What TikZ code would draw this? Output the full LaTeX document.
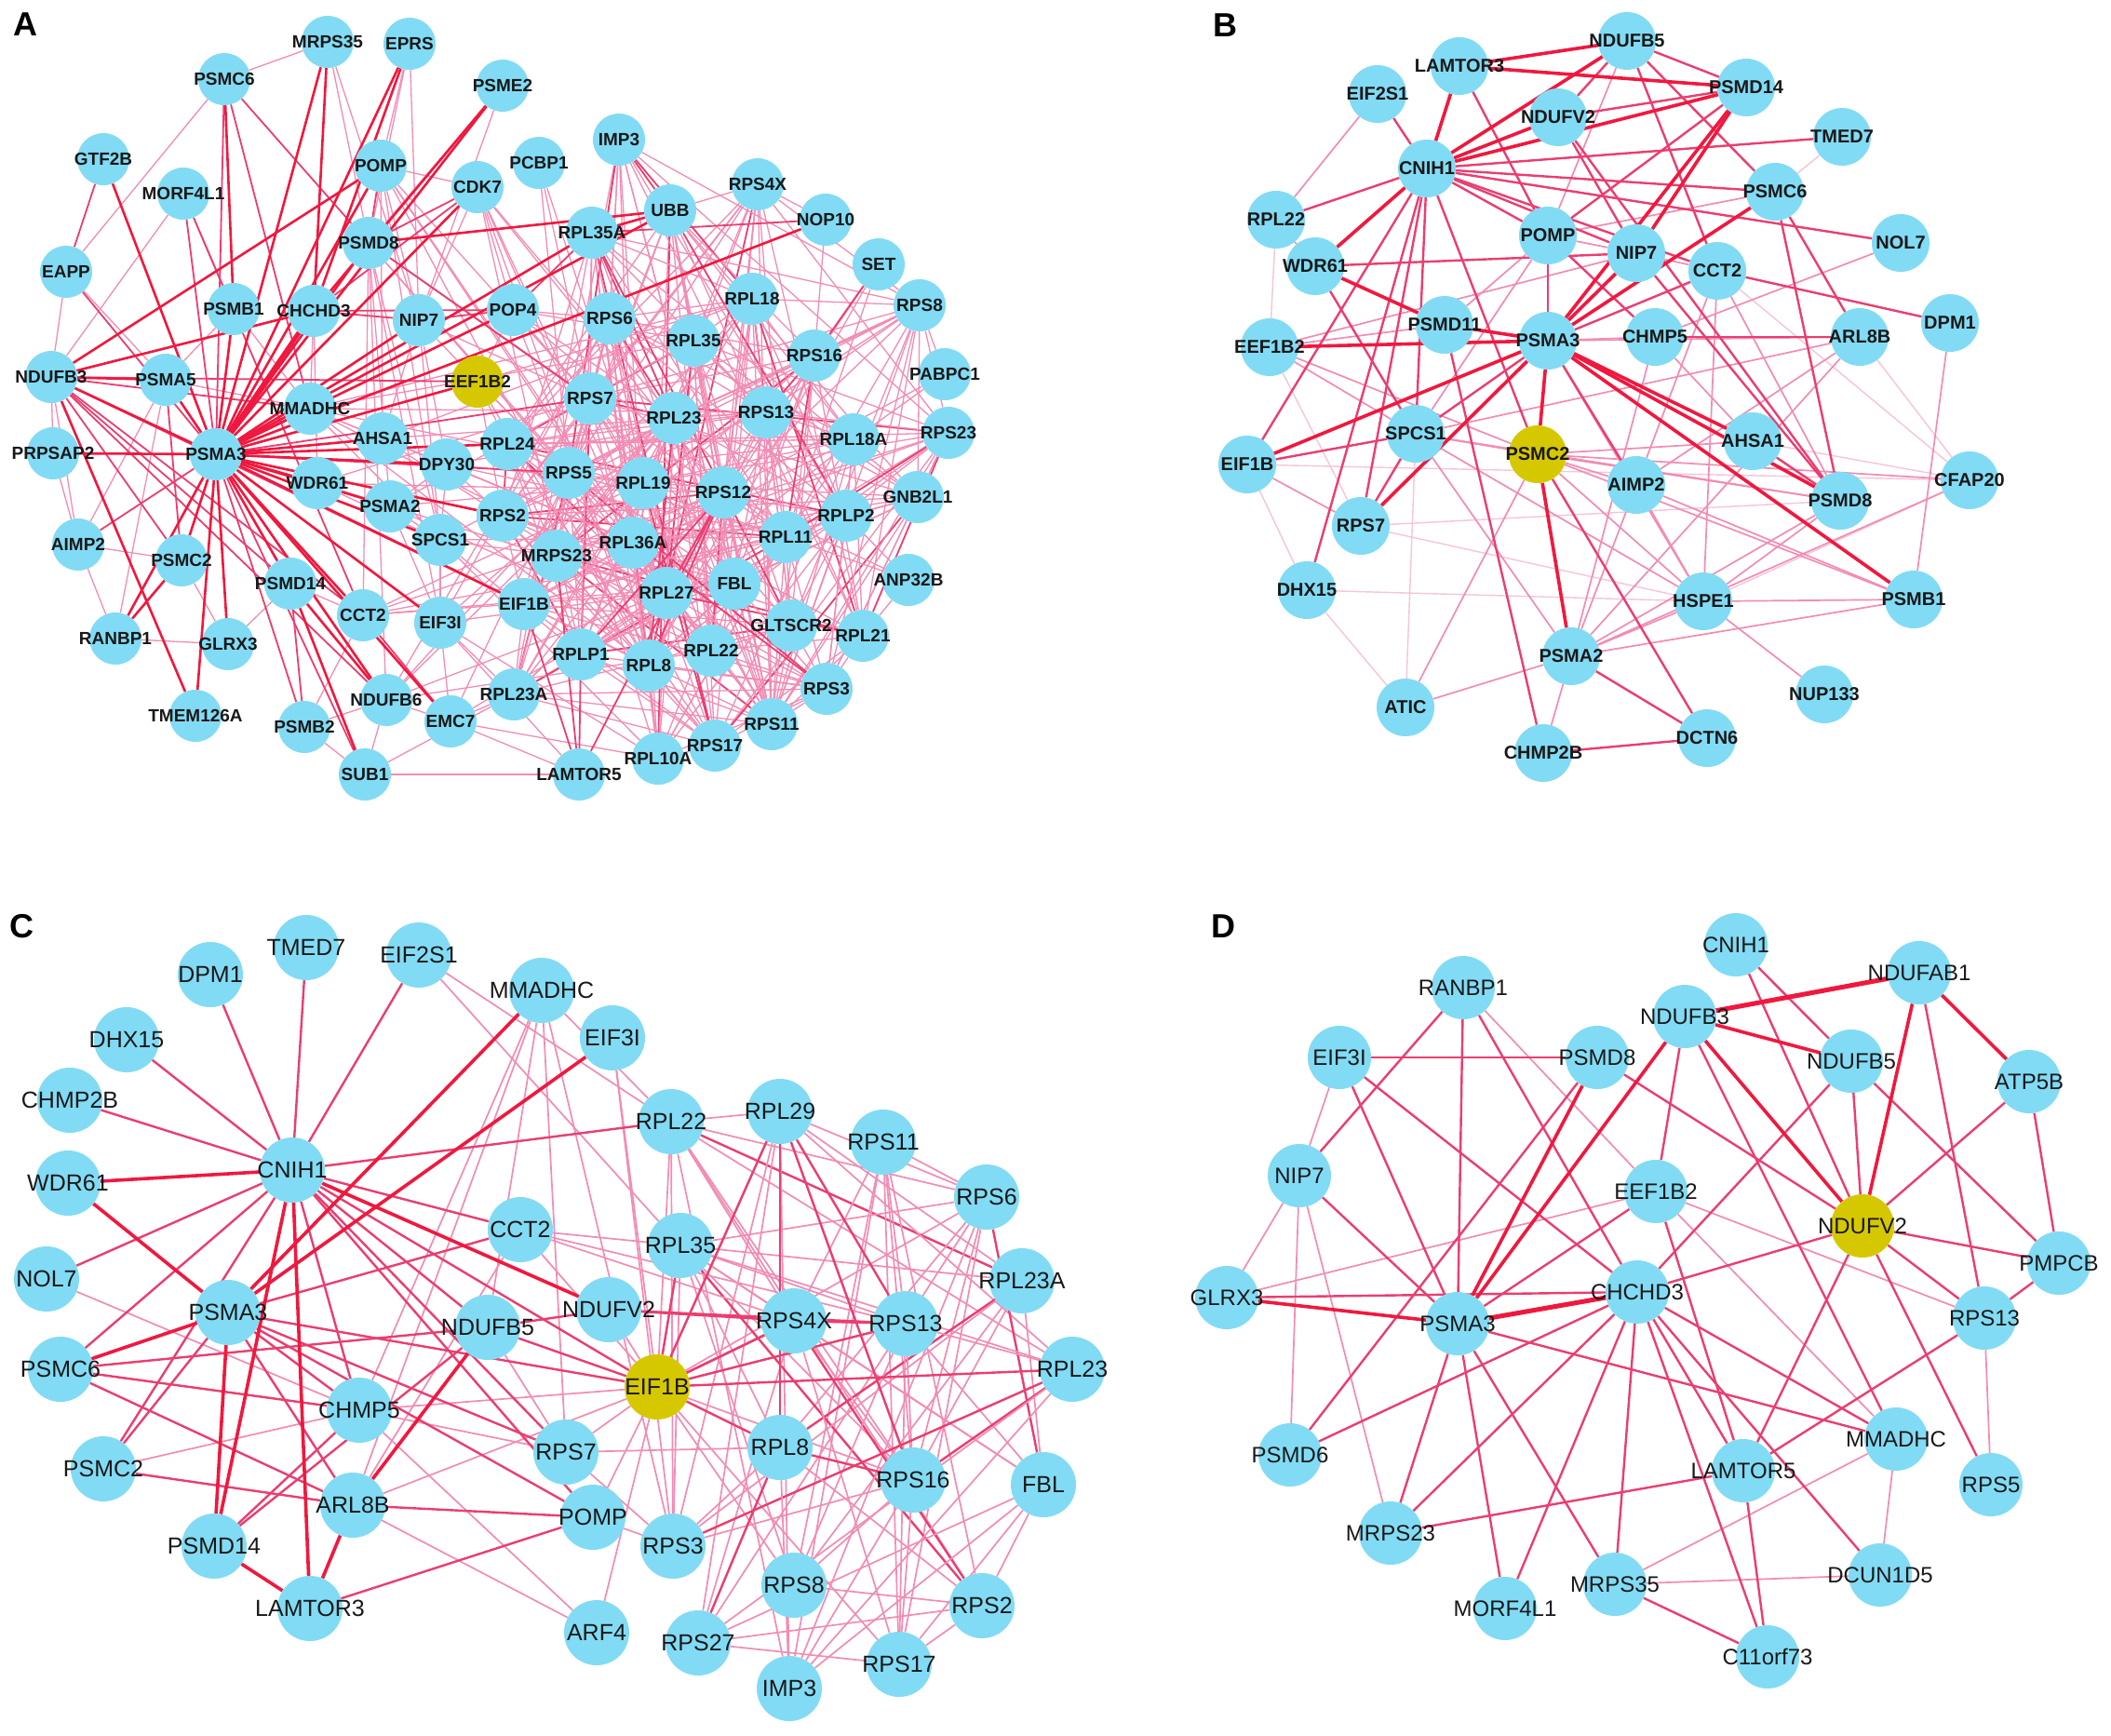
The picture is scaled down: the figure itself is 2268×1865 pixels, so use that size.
\documentclass[tikz,border=0pt]{standalone}
\usepackage{fontspec}
\setmainfont{Liberation Sans}
\pgfdeclarelayer{bgl}
\pgfdeclarelayer{edges}
\pgfdeclarelayer{fg}
\pgfsetlayers{bgl,edges,main,fg}
\definecolor{ncyan}{RGB}{130,219,244}
\definecolor{nyel}{RGB}{214,200,0}
\definecolor{cR}{RGB}{240,24,62}
\definecolor{cM}{RGB}{234,62,112}
\definecolor{cL}{RGB}{242,140,180}
\definecolor{cV}{RGB}{247,196,216}
\definecolor{txt}{RGB}{25,25,25}
\tikzset{
 nda/.style={circle,fill=ncyan,inner sep=0pt,minimum size=56},
 ndb/.style={circle,fill=ncyan,inner sep=0pt,minimum size=62},
 ndc/.style={circle,fill=ncyan,inner sep=0pt,minimum size=70},
 ndd/.style={circle,fill=ncyan,inner sep=0pt,minimum size=68},
 yel/.style={fill=nyel},
 ta/.style={text=txt,font=\bfseries\fontsize{19}{19}\selectfont,inner sep=0pt},
 tb/.style={text=txt,font=\bfseries\fontsize{20}{20}\selectfont,inner sep=0pt},
 tc/.style={text=txt,font=\fontsize{25}{25}\selectfont,inner sep=0pt},
 td/.style={text=txt,font=\fontsize{24}{24}\selectfont,inner sep=0pt},
 plab/.style={text=black,font=\bfseries\fontsize{36}{36}\selectfont,inner sep=0pt},
 aRR/.style={draw=cR,line width=5},
 aR/.style={draw=cR,line width=2.6},
 aM/.style={draw=cM,line width=1.8},
 aL/.style={draw=cL,line width=1.3},
 eR/.style={draw=cR,line width=3.6},
 eM/.style={draw=cM,line width=2.4},
 eL/.style={draw=cL,line width=1.7},
 eV/.style={draw=cV,line width=1.4}
}
\newcommand\NA[3][]{\node[nda,#1] (a#2) at (#3) {};\begin{pgfonlayer}{fg}\node[ta] at (#3) {#2};\end{pgfonlayer}}
\newcommand\NB[3][]{\node[ndb,#1] (b#2) at (#3) {};\begin{pgfonlayer}{fg}\node[tb] at (#3) {#2};\end{pgfonlayer}}
\newcommand\NC[3][]{\node[ndc,#1] (c#2) at (#3) {};\begin{pgfonlayer}{fg}\node[tc] at (#3) {#2};\end{pgfonlayer}}
\newcommand\ND[3][]{\node[ndd,#1] (d#2) at (#3) {};\begin{pgfonlayer}{fg}\node[td] at (#3) {#2};\end{pgfonlayer}}
\def\meshA{RPL24,RPS2,MRPS23,EIF1B,RPL23A,RPLP1,RPL8,RPL10A,RPS17,RPL22,RPS11,RPL27,RPL36A,RPS5,RPS7,RPS6,RPL35A,IMP3,UBB,RPS4X,RPL18,RPL35,RPL23,RPL19,RPS12,RPS13,RPS16,RPS8,RPL18A,RPS23,GNB2L1,RPLP2,RPL11,FBL,GLTSCR2,RPL21,RPS3}
\def\leftA{EEF1B2,POP4,NIP7,DPY30,AHSA1,SPCS1,PSMA2,PSMD8,EIF3I,CCT2,WDR61,MMADHC,CDK7,POMP,EMC7,NDUFB6}
\def\rightA{RPS7,RPS6,RPL35A,RPS5,RPL19,RPL23,RPL36A,RPLP1,RPL8,RPL27,RPS12,RPS13,RPL35,RPL18,RPL10A,FBL,RPL11,RPL22}
\def\meshC{EIF1B,RPL22,RPL29,RPS11,RPS6,RPL35,RPL23A,RPS4X,RPS13,RPL23,RPL8,RPS16,FBL,RPS3,RPS8,RPS2,RPS27,RPS17,IMP3}
\newcommand\rmod[1]{\edef\r{\the\numexpr (#1) - 100*(((#1)-50)/100)\relax}}
\begin{document}
\begin{tikzpicture}[x=1pt,y=-1pt]
\begin{pgfonlayer}{bgl}
\fill[white] (0,0) rectangle (2268,1865);
\end{pgfonlayer}
\useasboundingbox (0,0) rectangle (2268,1865);
\node[plab] (labA) at (27,26) {A};
\node[plab] (labB) at (1316,27) {B};
\node[plab] (labC) at (23,995) {C};
\node[plab] (labD) at (1314,995) {D};
% ---------------- Panel A nodes
\NA{MRPS35}{352,45}
\NA{EPRS}{440,47}
\NA{PSMC6}{241,85}
\NA{PSME2}{540,92}
\NA{GTF2B}{111,171}
\NA{MORF4L1}{197,208}
\NA{POMP}{409,178}
\NA{CDK7}{513,201}
\NA{PCBP1}{579,175}
\NA{PSMD8}{396,261}
\NA{EAPP}{71,292}
\NA{PSMB1}{251,332}
\NA{CHCHD3}{337,334}
\NA{NIP7}{450,344}
\NA{POP4}{551,333}
\NA{NDUFB3}{55,405}
\NA{PSMA5}{178,408}
\NA[yel]{EEF1B2}{513,410}
\NA{MMADHC}{333,439}
\NA{AHSA1}{411,471}
\NA{RPL24}{545,477}
\NA{PRPSAP2}{57,487}
\NA{PSMA3}{232,488}
\NA{DPY30}{480,499}
\NA{WDR61}{341,519}
\NA{PSMA2}{419,544}
\NA{RPS2}{540,554}
\NA{SPCS1}{473,580}
\NA{AIMP2}{84,585}
\NA{PSMC2}{195,602}
\NA{PSMD14}{312,627}
\NA{CCT2}{390,661}
\NA{EIF3I}{473,669}
\NA{EIF1B}{563,649}
\NA{RANBP1}{124,686}
\NA{GLRX3}{245,692}
\NA{NDUFB6}{415,752}
\NA{EMC7}{484,775}
\NA{RPL23A}{552,746}
\NA{TMEM126A}{210,769}
\NA{PSMB2}{327,781}
\NA{SUB1}{392,832}
\NA{IMP3}{665,150}
\NA{RPS4X}{814,198}
\NA{UBB}{720,226}
\NA{NOP10}{887,236}
\NA{RPL35A}{636,250}
\NA{SET}{944,284}
\NA{RPL18}{808,321}
\NA{RPS8}{988,328}
\NA{RPS6}{655,342}
\NA{RPL35}{745,366}
\NA{RPS16}{875,382}
\NA{PABPC1}{1015,402}
\NA{RPS7}{634,428}
\NA{RPL23}{724,449}
\NA{RPS13}{823,443}
\NA{RPL18A}{917,472}
\NA{RPS23}{1019,465}
\NA{RPS5}{611,508}
\NA{RPL19}{691,519}
\NA{RPS12}{777,529}
\NA{GNB2L1}{986,534}
\NA{RPLP2}{909,554}
\NA{RPL11}{844,577}
\NA{RPL36A}{680,583}
\NA{MRPS23}{598,597}
\NA{ANP32B}{976,623}
\NA{FBL}{789,627}
\NA{RPL27}{716,637}
\NA{GLTSCR2}{850,672}
\NA{RPL21}{927,683}
\NA{RPLP1}{624,703}
\NA{RPL8}{697,715}
\NA{RPL22}{764,699}
\NA{RPS3}{888,740}
\NA{RPS11}{829,778}
\NA{RPS17}{768,801}
\NA{RPL10A}{707,815}
\NA{LAMTOR5}{622,832}
% ---------------- Panel B nodes
\NB{NDUFB5}{1748,44}
\NB{LAMTOR3}{1568,71}
\NB{PSMD14}{1876,94}
\NB{EIF2S1}{1480,101}
\NB{NDUFV2}{1674,126}
\NB{TMED7}{1979,147}
\NB{CNIH1}{1533,181}
\NB{PSMC6}{1907,206}
\NB{RPL22}{1371,236}
\NB{NOL7}{2042,261}
\NB{POMP}{1663,253}
\NB{NIP7}{1758,272}
\NB{WDR61}{1413,286}
\NB{CCT2}{1845,291}
\NB{DPM1}{2095,347}
\NB{PSMD11}{1552,349}
\NB{PSMA3}{1663,366}
\NB{CHMP5}{1778,362}
\NB{ARL8B}{1998,362}
\NB{EEF1B2}{1364,373}
\NB{SPCS1}{1521,466}
\NB{AHSA1}{1883,474}
\NB[yel]{PSMC2}{1652,488}
\NB{EIF1B}{1340,499}
\NB{AIMP2}{1758,521}
\NB{CFAP20}{2116,516}
\NB{PSMD8}{1977,538}
\NB{RPS7}{1462,565}
\NB{DHX15}{1404,634}
\NB{HSPE1}{1830,646}
\NB{PSMB1}{2056,644}
\NB{PSMA2}{1688,705}
\NB{ATIC}{1510,760}
\NB{NUP133}{1960,746}
\NB{DCTN6}{1834,793}
\NB{CHMP2B}{1658,809}
% ---------------- Panel C nodes
\NC{TMED7}{329,1018}
\NC{EIF2S1}{450,1026}
\NC{DPM1}{226,1047}
\NC{MMADHC}{582,1064}
\NC{DHX15}{136,1117}
\NC{EIF3I}{658,1115}
\NC{CHMP2B}{75,1182}
\NC{RPL22}{721,1205}
\NC{RPL29}{838,1194}
\NC{RPS11}{949,1227}
\NC{CNIH1}{314,1257}
\NC{WDR61}{73,1271}
\NC{RPS6}{1060,1286}
\NC{CCT2}{559,1321}
\NC{RPL35}{731,1338}
\NC{NOL7}{50,1374}
\NC{RPL23A}{1098,1376}
\NC{NDUFV2}{654,1407}
\NC{PSMA3}{245,1410}
\NC{RPS4X}{853,1419}
\NC{RPS13}{973,1422}
\NC{NDUFB5}{524,1426}
\NC{PSMC6}{65,1471}
\NC{RPL23}{1152,1471}
\NC[yel]{EIF1B}{706,1490}
\NC{CHMP5}{386,1515}
\NC{RPL8}{838,1555}
\NC{RPS7}{608,1560}
\NC{PSMC2}{111,1578}
\NC{RPS16}{981,1590}
\NC{FBL}{1121,1595}
\NC{ARL8B}{379,1617}
\NC{POMP}{637,1630}
\NC{PSMD14}{230,1661}
\NC{RPS3}{723,1661}
\NC{RPS8}{853,1703}
\NC{LAMTOR3}{333,1728}
\NC{RPS2}{1055,1725}
\NC{ARF4}{641,1754}
\NC{RPS27}{750,1765}
\NC{RPS17}{966,1788}
\NC{IMP3}{848,1814}
% ---------------- Panel D nodes
\ND{CNIH1}{1865,1015}
\ND{NDUFAB1}{2062,1045}
\ND{RANBP1}{1572,1061}
\ND{NDUFB3}{1810,1092}
\ND{EIF3I}{1439,1136}
\ND{PSMD8}{1716,1136}
\ND{NDUFB5}{1989,1140}
\ND{ATP5B}{2180,1162}
\ND{NIP7}{1396,1263}
\ND{EEF1B2}{1779,1280}
\ND[yel]{NDUFV2}{2001,1317}
\ND{PMPCB}{2212,1357}
\ND{GLRX3}{1318,1394}
\ND{CHCHD3}{1759,1388}
\ND{PSMA3}{1566,1422}
\ND{RPS13}{2132,1416}
\ND{PSMD6}{1386,1563}
\ND{MMADHC}{2037,1546}
\ND{LAMTOR5}{1873,1580}
\ND{RPS5}{2139,1595}
\ND{MRPS23}{1494,1647}
\ND{DCUN1D5}{2020,1692}
\ND{MRPS35}{1735,1702}
\ND{MORF4L1}{1617,1728}
\ND{C11orf73}{1899,1780}
% ================= EDGES
\begin{pgfonlayer}{edges}
% ---- Panel A: ribosomal mesh
\foreach \u [count=\i] in \meshA {
  \foreach \v [count=\j] in \meshA {
    \ifnum\j>\i
      \rmod{\i*37+\j*23+\i*\j*7}
      \ifnum\r<40 \draw[aL] (a\u)--(a\v);\fi
      \ifnum\r>93 \draw[aM] (a\u)--(a\v);\fi
    \fi
  }
}
\foreach \u [count=\i] in \leftA {
  \foreach \v [count=\j] in \rightA {
      \rmod{\i*29+\j*13+\i*\j*7}
      \ifnum\r<22 \draw[aL] (a\u)--(a\v);\fi
  }
}
\foreach \u/\v in {PSMC6/EAPP,PSMC6/MRPS35,MRPS35/NIP7,MRPS35/PSMD8,EPRS/PSMD8,EPRS/POMP,PSME2/PSMD8,POMP/NIP7,POMP/CDK7,POMP/SPCS1,POMP/AHSA1,CDK7/NIP7,CDK7/POP4,PSMD8/SPCS1,PSMD8/EIF3I,PSMD8/NDUFB6,PSMD8/CCT2,PSMD8/PSMA2,CHCHD3/WDR61,CHCHD3/MMADHC,NIP7/EEF1B2,NIP7/AHSA1,NIP7/DPY30,NIP7/SPCS1,POP4/EEF1B2,PSMA5/AIMP2,PSMA5/RANBP1,PSMA5/MMADHC,PRPSAP2/AIMP2,AIMP2/RANBP1,AIMP2/PSMC2,RANBP1/GLRX3,GLRX3/PSMC2,PSMD14/CCT2,NDUFB6/EMC7,NDUFB6/SUB1,NDUFB6/PSMB2,WDR61/SPCS1,WDR61/PSMA2,MMADHC/AHSA1,EIF3I/SPCS1,EIF3I/PSMA2,EIF3I/LAMTOR5,SUB1/RPL23A,EMC7/EIF3I,SPCS1/PSMA2,SPCS1/DPY30,AHSA1/DPY30,PSMA2/DPY30,PSMB2/CCT2,PSMB1/PSMA5,PSMB1/MMADHC,MORF4L1/PSMB1,EAPP/PSMA5,NDUFB3/PRPSAP2,NDUFB3/AIMP2,NDUFB3/MORF4L1,NDUFB3/EAPP,NOP10/RPS4X,NOP10/RPS16,SET/RPL11,SET/RPS12,SET/RPL8,PABPC1/RPS8,PABPC1/RPL18A,PABPC1/RPS12,ANP32B/RPL11,ANP32B/RPS12,ANP32B/RPL21,ANP32B/RPLP2,PCBP1/RPS7,PCBP1/RPS5,PCBP1/RPL19,IMP3/RPS6,EEF1B2/RPL24,EEF1B2/RPS5,EEF1B2/RPS2,POP4/RPS7,DPY30/RPS2,SPCS1/MRPS23,EIF3I/RPL23A,EMC7/RPL23A,EMC7/LAMTOR5,SUB1/LAMTOR5,GLRX3/PSMD14,PSMB2/SUB1,PSME2/NIP7,EPRS/NIP7}
  \draw[aL] (a\u)--(a\v);
\foreach \u/\v in {PSMA3/AIMP2,PSMA3/EAPP,PSMA3/MORF4L1,PSMA3/PSMB2,PSMA3/SUB1,PSMA3/PSMC6,NDUFB3/PSMC2,NDUFB3/CCT2,NDUFB3/NDUFB6,NDUFB3/EIF1B,NDUFB3/MMADHC,NDUFB3/PSMD14,NDUFB3/EEF1B2,GTF2B/EAPP,PSMC6/PSMD8,PSMC6/MMADHC,MORF4L1/CCT2,POMP/PSMD8,CDK7/PSMD8,CDK7/CHCHD3,CHCHD3/NIP7,CHCHD3/POP4,NIP7/POP4,PSMA5/PSMC2,PSMD14/PSMB2,CCT2/EMC7,EIF1B/LAMTOR5,LAMTOR5/RPS12,LAMTOR5/MRPS23,LAMTOR5/RPLP1,RPS12/RPL8,RPL23/RPL8,RPS12/RPL27,RPS12/RPLP1,SET/RPS16,NOP10/RPL35A,POP4/RPL35A,PSMD8/RPS7,PSMA3/RPS7,PSMA3/RPS5}
  \draw[aM] (a\u)--(a\v);
\foreach \v in {NDUFB3,PRPSAP2,PSMC2,GLRX3,TMEM126A,PSMD14,CCT2,NDUFB6,EMC7,EIF3I,SPCS1,PSMA2,WDR61,MMADHC,AHSA1,PSMD8,POMP,PSME2,EPRS,MRPS35,PSMB1,GTF2B,NIP7,POP4,EEF1B2,DPY30,RPL24,CDK7,EIF1B,RPS2,NOP10,UBB,RPL35A,PSMA5,RANBP1}
  \draw[aR] (aPSMA3)--(a\v);
\foreach \u/\v in {NDUFB3/PSMA5,NDUFB3/TMEM126A,NDUFB3/CHCHD3,NDUFB3/POMP,PSMC6/PSMB1,RANBP1/PSMC2,PSMD14/NDUFB6,PSMD14/SUB1,CHCHD3/MRPS35,CHCHD3/EPRS,CHCHD3/PSME2,PSMD8/UBB,UBB/RPL35A}
  \draw[aR] (a\u)--(a\v);
\draw[aRR] (aPSMA3)--(aCHCHD3);
% ---- Panel B
\foreach \u/\v in {RPL22/EEF1B2,PSMC6/TMED7,DHX15/ATIC,DHX15/HSPE1,DHX15/EIF1B,HSPE1/CFAP20,CFAP20/ARL8B,CFAP20/AHSA1,CFAP20/CCT2,RPS7/HSPE1,ATIC/SPCS1,EEF1B2/RPS7,RPS7/PSMD8,EIF1B/CFAP20}
  \draw[eV] (b\u)--(b\v);
\foreach \u/\v in {NDUFB5/POMP,EEF1B2/PSMD11,EEF1B2/SPCS1,EEF1B2/PSMC2,EEF1B2/NIP7,PSMA3/ARL8B,PSMA3/CHMP5,PSMA3/HSPE1,PSMC2/SPCS1,PSMC2/AHSA1,PSMC2/PSMD8,PSMC2/CFAP20,PSMC2/HSPE1,PSMC2/PSMB1,PSMC2/ATIC,PSMC2/AIMP2,PSMA2/ATIC,PSMA2/HSPE1,PSMA2/PSMB1,PSMA2/PSMD8,PSMA2/AIMP2,PSMA2/CHMP5,PSMA2/ARL8B,PSMA2/CHMP2B,PSMA2/SPCS1,PSMA2/CFAP20,NOL7/CHMP5,CCT2/PSMD8,CCT2/HSPE1,CCT2/AIMP2,NIP7/POMP,NIP7/CCT2,PSMC6/POMP,DPM1/PSMB1,AHSA1/CHMP5,POMP/SPCS1,POMP/PSMD11,ARL8B/AIMP2,ARL8B/SPCS1,SPCS1/PSMD8,SPCS1/HSPE1,EIF1B/RPS7,HSPE1/PSMB1,HSPE1/NUP133,HSPE1/AIMP2,RPL22/EIF2S1,AIMP2/PSMB1,RPL22/WDR61,HSPE1/PSMD8}
  \draw[eL] (b\u)--(b\v);
\foreach \u/\v in {CNIH1/TMED7,CNIH1/PSMC6,CNIH1/NOL7,CNIH1/EIF2S1,CNIH1/RPL22,CNIH1/POMP,CNIH1/CCT2,CNIH1/EIF1B,CNIH1/RPS7,CNIH1/PSMC2,CNIH1/DHX15,CNIH1/SPCS1,CNIH1/NIP7,LAMTOR3/POMP,NDUFB5/PSMD14,NDUFB5/NDUFV2,NDUFB5/PSMC6,NDUFB5/CCT2,PSMD14/NDUFV2,PSMD14/POMP,NDUFV2/NIP7,NDUFV2/PSMD8,WDR61/NIP7,WDR61/SPCS1,PSMA3/POMP,PSMA3/CCT2,PSMA3/SPCS1,PSMA3/AIMP2,PSMD11/CHMP2B,PSMC2/DCTN6,PSMA2/DCTN6,CHMP2B/DCTN6,CCT2/DPM1,NIP7/PSMD8,PSMC6/ARL8B,PSMC6/PSMD8,AHSA1/PSMD8,POMP/CHMP5,ARL8B/CHMP5,SPCS1/EIF1B,SPCS1/RPS7}
  \draw[eM] (b\u)--(b\v);
\foreach \u/\v in {CNIH1/LAMTOR3,CNIH1/NDUFB5,CNIH1/NDUFV2,CNIH1/PSMD14,CNIH1/WDR61,LAMTOR3/NDUFB5,LAMTOR3/PSMD14,PSMD14/NIP7,PSMD14/PSMA3,WDR61/PSMD11,PSMD11/PSMA3,EEF1B2/PSMA3,PSMA3/NIP7,PSMA3/PSMC6,PSMA3/PSMC2,PSMA3/EIF1B,PSMA3/RPS7,PSMA3/AHSA1,PSMA3/PSMD8,PSMA3/PSMB1,PSMC2/PSMA2}
  \draw[eR] (b\u)--(b\v);
% ---- Panel C
\foreach \u [count=\i] in \meshC {
  \foreach \v [count=\j] in \meshC {
    \ifnum\j>\i
      \rmod{\i*41+\j*19+\i*\j*13}
      \ifnum\r<45 \draw[eL] (c\u)--(c\v);\fi
      \ifnum\r>95 \draw[eM] (c\u)--(c\v);\fi
    \fi
  }
}
\foreach \u/\v in {EIF2S1/RPL35,EIF2S1/RPL22,MMADHC/CHMP5,MMADHC/ARL8B,MMADHC/RPS7,MMADHC/RPL22,MMADHC/RPS3,MMADHC/NDUFB5,EIF3I/EIF1B,EIF3I/RPS3,CCT2/RPL35,CCT2/RPS4X,CCT2/RPS13,CCT2/EIF1B,CCT2/ARL8B,PSMC2/CHMP5,CHMP5/RPS7,CHMP5/EIF1B,CHMP5/ARF4,ARL8B/EIF1B,RPS7/EIF1B,POMP/EIF1B,ARF4/EIF1B,ARF4/ARL8B,NOL7/CHMP5,NDUFB5/RPS7,NDUFV2/EIF1B,RPS7/RPS3,RPS7/RPL8,POMP/RPS3}
  \draw[eL] (c\u)--(c\v);
\foreach \u/\v in {CNIH1/DPM1,CNIH1/TMED7,CNIH1/EIF2S1,CNIH1/DHX15,CNIH1/CHMP2B,CNIH1/RPL22,CNIH1/NOL7,CNIH1/PSMC6,CNIH1/PSMC2,CNIH1/CHMP5,CNIH1/NDUFB5,CNIH1/CCT2,CNIH1/EIF1B,CNIH1/RPS7,CNIH1/POMP,PSMA3/CCT2,PSMA3/PSMC2,PSMA3/EIF1B,PSMA3/RPS7,PSMA3/POMP,PSMA3/ARL8B,PSMA3/CHMP5,NDUFB5/PSMC6,NDUFB5/PSMD14,NDUFB5/EIF1B,NDUFB5/NDUFV2,NDUFV2/RPS4X,NDUFV2/RPS13,LAMTOR3/POMP,PSMC2/ARL8B,PSMC6/CHMP5,PSMC6/ARL8B,CHMP5/PSMD14,ARL8B/POMP,EIF1B/RPL29,EIF1B/RPL35,EIF1B/RPS4X,EIF1B/RPL23,EIF1B/RPL8,EIF1B/RPS13,RPL29/RPL8,RPL29/RPS16,RPL29/RPS13,RPS4X/RPS13,RPL8/RPS27,RPL8/RPS16}
  \draw[eM] (c\u)--(c\v);
\foreach \u/\v in {CNIH1/WDR61,CNIH1/PSMD14,CNIH1/LAMTOR3,CNIH1/NDUFV2,WDR61/PSMA3,PSMA3/MMADHC,PSMA3/EIF3I,PSMA3/PSMD14,LAMTOR3/PSMD14,LAMTOR3/ARL8B,NDUFB5/ARL8B,PSMA3/PSMC6}
  \draw[eR] (c\u)--(c\v);
% ---- Panel D
\foreach \u/\v in {RANBP1/EEF1B2,EIF3I/NIP7,NIP7/GLRX3,NIP7/PSMD6,NIP7/MRPS23,GLRX3/EEF1B2,EEF1B2/RPS13,EEF1B2/MMADHC,MMADHC/DCUN1D5,MMADHC/MRPS35,MRPS35/DCUN1D5,RPS13/RPS5}
  \draw[eL] (d\u)--(d\v);
\foreach \u/\v in {NDUFB3/EEF1B2,NDUFB3/MMADHC,NDUFAB1/RPS13,CNIH1/NDUFB5,CNIH1/NDUFV2,ATP5B/NDUFV2,ATP5B/PMPCB,NDUFB5/NDUFV2,NDUFB5/CHCHD3,NDUFB5/PMPCB,NDUFV2/PMPCB,NDUFV2/RPS13,NDUFV2/RPS5,NDUFV2/LAMTOR5,NDUFV2/CHCHD3,PSMD8/NDUFV2,RANBP1/PSMA3,RANBP1/CHCHD3,RANBP1/NIP7,EIF3I/PSMD8,EIF3I/PSMA3,EIF3I/CHCHD3,PSMD8/PSMD6,NIP7/PSMA3,GLRX3/CHCHD3,EEF1B2/PSMA3,EEF1B2/LAMTOR5,CHCHD3/PSMD6,CHCHD3/MRPS23,CHCHD3/MORF4L1,CHCHD3/MRPS35,CHCHD3/C11orf73,CHCHD3/DCUN1D5,CHCHD3/MMADHC,CHCHD3/LAMTOR5,PSMA3/MMADHC,PSMA3/MRPS23,PSMA3/MORF4L1,PSMA3/MRPS35,LAMTOR5/MRPS23,LAMTOR5/RPS13,LAMTOR5/C11orf73,MRPS35/C11orf73,RPS13/PMPCB}
  \draw[eM] (d\u)--(d\v);
\foreach \u/\v in {NDUFB3/NDUFB5,NDUFB3/NDUFV2,NDUFB3/PSMA3,NDUFAB1/ATP5B,NDUFAB1/NDUFV2,PSMA3/GLRX3,PSMD8/PSMA3}
  \draw[eR] (d\u)--(d\v);
\draw[eR,line width=5] (dNDUFB3)--(dNDUFAB1);
\draw[eR,line width=5] (dPSMA3)--(dCHCHD3);
\end{pgfonlayer}
\end{tikzpicture}
\end{document}
